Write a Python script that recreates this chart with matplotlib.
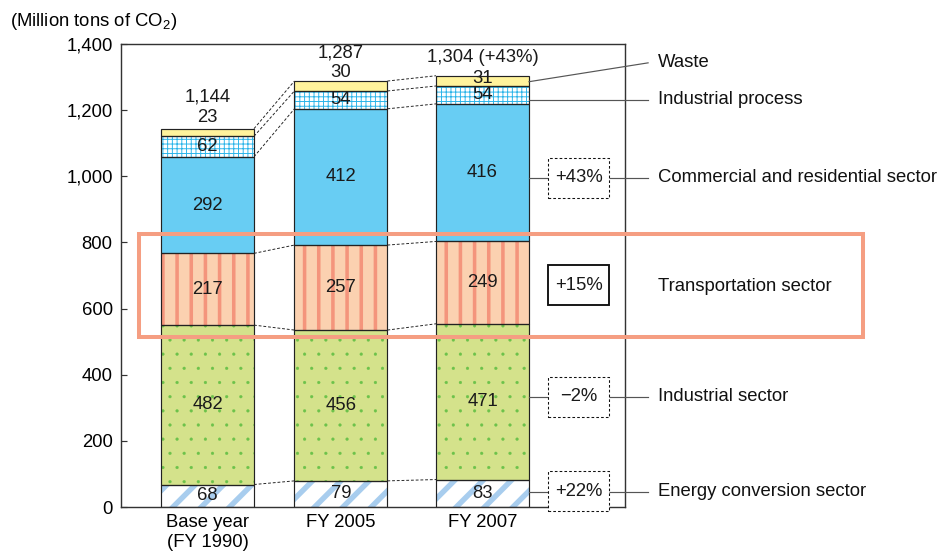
import numpy as np
import matplotlib
matplotlib.use('Agg')
import matplotlib.pyplot as plt
from matplotlib.patches import Rectangle

plt.rcParams['font.family'] = ['Liberation Sans', 'DejaVu Sans']
plt.rcParams['mathtext.fontset'] = 'custom'
plt.rcParams['mathtext.rm'] = 'Liberation Sans'
plt.rcParams['mathtext.it'] = 'Liberation Sans:italic'

# ---------------- datos ----------------
years = ['Base year\n(FY 1990)', 'FY 2005', 'FY 2007']
sectors = ['Energy conversion sector', 'Industrial sector', 'Transportation sector',
           'Commercial and residential sector', 'Industrial process', 'Waste']
energy = [68, 79, 83]
industrial = [482, 456, 471]
transport = [217, 257, 249]
commercial = [292, 412, 416]
ind_process = [62, 54, 54]
waste = [23, 30, 31]
totals = ['1,144', '1,287', '1,304 (+43%)']
# energy, industrial, transport, commercial
changes = ['+22%', '\u22122%', '+15%', '+43%']

series = [energy, industrial, transport, commercial, ind_process, waste]

# estilos (fondo, color de trama, trama, grosor de trama)
styles = [
    ('white', '#A8CDEE', '/', 4.6),
    ('#D4E28B', '#6CC24A', '.', 0.25),
    ('#FBD1B0', '#F4957C', '|', 3.0),
    ('#68CDF3', '#68CDF3', None, 1.0),
    ('white', '#2AB4E9', '+++', 0.8),
    ('#FFF39C', '#FFF39C', None, 1.0),
]

FS = 15.7
DPI = 85
fig = plt.figure(figsize=(941 / DPI, 552 / DPI), dpi=DPI)
ax = fig.add_axes([121 / 941, 45 / 552, 504 / 941, 463 / 552])

x = np.array([0, 0.97, 2.0])
w = 0.676

bottom = np.zeros(3)
bounds = []
for vals, (fc, hc, hatch, hlw) in zip(series, styles):
    vals = np.array(vals, dtype=float)
    with plt.rc_context({'hatch.linewidth': hlw}):
        bars = ax.bar(x, vals, w, bottom=bottom, color=fc, edgecolor=hc,
                      hatch=hatch, linewidth=0, zorder=2)
        for b in bars:
            if hasattr(b, 'set_hatch_linewidth'):
                b.set_hatch_linewidth(hlw)
    ax.bar(x, vals, w, bottom=bottom, color='none', edgecolor='#222222',
           linewidth=1.0, zorder=3)
    bottom = bottom + vals
    bounds.append(bottom.copy())

# etiquetas dentro de los segmentos
bottom = np.zeros(3)
for vals in series[:5]:
    for i in range(3):
        ax.text(x[i], bottom[i] + vals[i] / 2, str(vals[i]), ha='center', va='center',
                fontsize=FS, color='#1a1a1a', zorder=6)
    bottom = bottom + np.array(vals)

# residuos y totales encima de las barras
waste_off = [11, 9, -3]
total_off = [32, 28, 18]
for i in range(3):
    top = bounds[-1][i]
    ax.annotate(str(waste[i]), (x[i], top), xytext=(0, waste_off[i]), textcoords='offset pixels',
                ha='center', va='center', fontsize=FS, color='#1a1a1a', zorder=6)
    ax.annotate(totals[i], (x[i], top), xytext=(0, total_off[i]), textcoords='offset pixels',
                ha='center', va='center', fontsize=FS, color='#1a1a1a', zorder=6)

# líneas discontinuas entre barras
for i in range(2):
    for b in bounds:
        ax.plot([x[i] + w / 2, x[i + 1] - w / 2], [b[i], b[i + 1]], ls=(0, (3, 2)),
                color='#222222', lw=0.8, zorder=1)

# etiquetas de la derecha
edge = x[2] + w / 2
xt, xe = 3.276, 3.204
bx0, bw, bh = 2.476, 0.444, 121
label_y = [46, 333, 667, 995, 1231, 1343]
lc = '#555555'
for k, name in enumerate(sectors):
    ax.text(xt, label_y[k], name, ha='left', va='center', fontsize=FS, color='#111111',
            clip_on=False, zorder=6)

box_y = [47, 333, 670, 995]
for k in range(4):
    solid = k == 2
    ax.add_patch(Rectangle((bx0, box_y[k] - bh / 2), bw, bh, facecolor='white',
                           edgecolor='#111111', lw=1.6 if solid else 0.9,
                           ls='-' if solid else (0, (2.5, 2)), clip_on=False, zorder=5))
    ax.text(bx0 + bw / 2, box_y[k], changes[k], ha='center', va='center', fontsize=FS,
            color='#1a1a1a', clip_on=False, zorder=6)
    if not solid:
        ax.plot([edge, bx0], [label_y[k], label_y[k]], color=lc, lw=1, clip_on=False, zorder=4)
        ax.plot([bx0 + bw, xe], [label_y[k], label_y[k]], color=lc, lw=1, clip_on=False, zorder=4)

ax.plot([edge, xe], [label_y[4], label_y[4]], color=lc, lw=1, clip_on=False, zorder=4)
ax.plot([edge, xe], [1286, label_y[5]], color=lc, lw=1, clip_on=False, zorder=4)

# recuadro naranja del sector transporte
ax.add_patch(Rectangle((-0.498, 514), 5.262, 311.5, fill=False, edgecolor='#F59E82',
                       lw=3.4, clip_on=False, zorder=4.5))

ax.set_xlim(-0.629, 3.036)
ax.set_ylim(0, 1400)
yt = list(range(0, 1401, 200))
ax.set_yticks(yt, [f'{v:,}' for v in yt])
ax.set_xticks(x, years)
ax.tick_params(axis='y', direction='in', length=5, width=1, pad=7, labelsize=FS, color='#333333')
ax.tick_params(axis='x', length=0, pad=6, labelsize=FS)
for s in ax.spines.values():
    s.set_linewidth(1.2)
    s.set_color('#333333')

fig.text(10 / 941, 1 - 22 / 552, '(Million tons of CO$_{2}$)', ha='left', va='center', fontsize=FS)

fig.savefig('out.png', dpi=DPI)
